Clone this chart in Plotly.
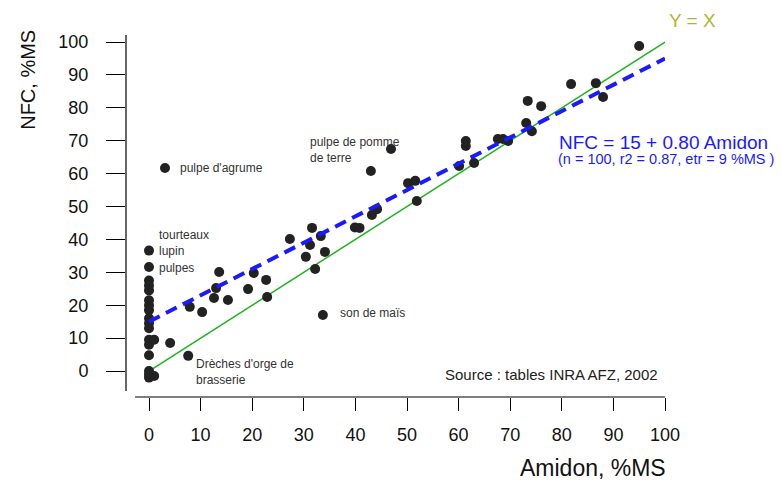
import plotly.graph_objects as go

# Amidon (%MS) vs NFC (%MS)
amidon = [
    0, 0, 0, 0, 0, 0, 0, 0, 0, 0, 0, 0, 0, 0, 0, 0, 0, 1.0, 1.0,
    3.1, 4.1, 7.6, 7.9, 10.3, 12.6, 13.0, 13.6, 15.3, 19.2, 20.3, 22.7, 22.9,
    27.3, 30.4, 31.2, 31.6, 33.3, 34.1, 32.2, 33.7, 39.9, 40.8, 43.2, 44.2,
    43.0, 46.9, 50.2, 51.6, 51.9, 60.1, 63.0, 61.4, 61.4, 67.6, 68.6, 69.6,
    73.1, 74.2, 73.4, 76.0, 81.8, 86.6, 88.0, 95.0,
]
nfc = [
    36.6, 31.6, 27.5, 26.0, 24.5, 21.5, 20.0, 18.5, 16.0, 14.5, 13.0, 9.5, 8.0, 4.8, 0.0, -1.0, -2.0, -1.5, 9.5,
    61.7, 8.5, 4.6, 19.5, 17.9, 22.2, 25.2, 30.1, 21.6, 24.9, 29.8, 27.7, 22.5,
    40.1, 34.7, 38.3, 43.5, 41.0, 36.2, 31.0, 17.0, 43.6, 43.5, 47.4, 49.2,
    60.8, 67.5, 57.1, 57.8, 51.7, 62.3, 63.2, 69.9, 68.4, 70.5, 70.5, 69.9,
    75.4, 72.9, 82.1, 80.5, 87.2, 87.5, 83.3, 98.8,
]

# droites
ligne_x = [0, 100]
ligne_yx = [0, 100]
intercept, pente = 15, 0.80
ligne_reg = [intercept + pente * v for v in ligne_x]

x_ticks = list(range(0, 101, 10))
y_ticks = list(range(0, 101, 10))

# étiquettes de points: (texte, x, y)
labels = [
    ("pulpe d'agrume", 5.6, 61.7),
    ("pulpe de pomme<br>de terre", 30.8, 67.2),
    ("tourteaux", 1.55, 41.3),
    ("lupin", 1.55, 36.5),
    ("pulpes", 1.55, 31.3),
    ("son de maïs", 36.6, 17.6),
    ("Drèches d'orge de<br>brasserie", 8.7, -0.2),
]

FONT = "Arial, Liberation Sans, sans-serif"

fig = go.Figure()

fig.add_trace(go.Scatter(
    x=ligne_x, y=ligne_yx, mode="lines",
    line=dict(color="#1cb41c", width=1.5), showlegend=False,
))
fig.add_trace(go.Scatter(
    x=amidon, y=nfc, mode="markers",
    marker=dict(color="#222222", size=10, line=dict(width=0)),
    showlegend=False,
))
fig.add_trace(go.Scatter(
    x=ligne_x, y=ligne_reg, mode="lines",
    line=dict(color="#1a1aff", width=4, dash="12px,7px"), showlegend=False,
))

for txt, lx, ly in labels:
    fig.add_annotation(
        text=txt, x=lx, y=ly, xref="x", yref="y",
        xanchor="left", yanchor="middle", align="left", showarrow=False,
        font=dict(family=FONT, size=12, color="#333333"),
    )

fig.add_annotation(
    text="Source : tables INRA AFZ, 2002", x=57.0, y=-1.2, xref="x", yref="y",
    xanchor="left", yanchor="middle", showarrow=False,
    font=dict(family=FONT, size=15, color="#222222"),
)
fig.add_annotation(
    text="Y = X", x=1.0037, y=1.0414, xref="paper", yref="paper",
    xanchor="left", yanchor="middle", showarrow=False,
    font=dict(family=FONT, size=19, color="#b4b42a"),
)
fig.add_annotation(
    text="NFC = 15 + 0.80 Amidon", x=79.1, y=69.6, xref="x", yref="y",
    xanchor="left", yanchor="middle", showarrow=False,
    font=dict(family=FONT, size=19, color="#1a1aff"),
)
fig.add_annotation(
    text="(n = 100, r2 = 0.87, etr = 9 %MS )", x=78.9, y=64.5, xref="x", yref="y",
    xanchor="left", yanchor="middle", showarrow=False,
    font=dict(family=FONT, size=14.5, color="#1a1aff"),
)
fig.add_annotation(
    text="NFC, %MS", x=-0.182, y=0.876, xref="paper", yref="paper",
    textangle=-90, xanchor="center", yanchor="middle", showarrow=False,
    font=dict(family=FONT, size=20, color="#111111"),
)
fig.add_annotation(
    text="Amidon, %MS", x=1.006, y=-0.196, xref="paper", yref="paper",
    xanchor="right", yanchor="middle", showarrow=False,
    font=dict(family=FONT, size=23, color="#111111"),
)

# axes détachés
fig.add_shape(type="line", xref="paper", yref="y", x0=0, x1=0, y0=-6.1, y1=102.1,
              line=dict(color="black", width=1.2))
fig.add_shape(type="line", xref="x", yref="paper", x0=-2.7, x1=100, y0=0, y1=0,
              line=dict(color="black", width=1.2))

fig.update_layout(
    width=782, height=481,
    margin=dict(l=118, r=125, t=27, b=92),
    plot_bgcolor="white", paper_bgcolor="white",
    font=dict(family=FONT, color="#111111"),
)
fig.update_xaxes(
    range=[-4.457, 100], tickvals=x_ticks, showgrid=False, zeroline=False,
    showline=False, ticks="outside", ticklen=13, tickcolor="black",
    tickfont=dict(size=18), ticklabelstandoff=8,
)
fig.update_yaxes(
    range=[-7.9, 102.13], tickvals=y_ticks, showgrid=False, zeroline=False,
    showline=False, ticks="outside", ticklen=19, tickcolor="black",
    tickfont=dict(size=18), ticklabelstandoff=14,
)

fig.write_html("out.html")
